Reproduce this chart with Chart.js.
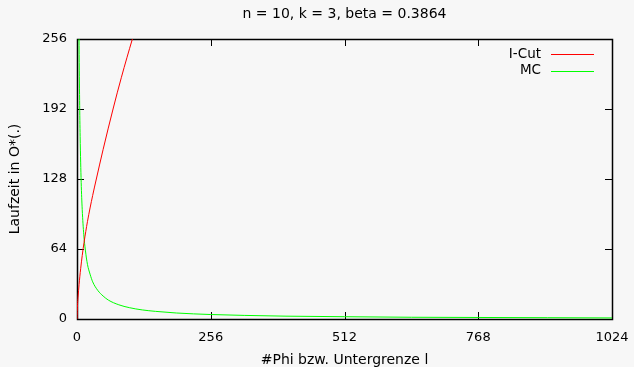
<!DOCTYPE html>
<html>
<head>
<meta charset="utf-8">
<script src="https://cdn.jsdelivr.net/npm/chart.js@4"></script>
<style>
  html, body { margin: 0; padding: 0; background: #f7f7f7; }
  #wrap { width: 634px; height: 367px; }
</style>
</head>
<body>
<div id="wrap"><canvas id="chart"></canvas></div>
<script>
// Values
const xTicks = [0, 256, 512, 768, 1024];
const yTicks = [0, 64, 128, 192, 256];

const icutX = [0, 1, 2, 4, 7, 10, 13.5, 20, 30, 37, 50, 69, 85, 106, 120];
const icutY = [0, 13, 20, 31.6, 46, 58, 70, 89, 113, 128, 155, 192, 221, 256, 278];

const mcX = [3, 4, 5, 6, 8, 10, 13, 16, 20, 25, 30, 40, 50, 60, 80, 100, 125, 150, 190, 256, 320, 400, 512, 640, 768, 900, 1024];
const mcY = [340, 250, 200, 167, 125, 100, 77, 63, 50, 41, 34, 26, 21, 17.3, 13, 10.4, 8.3, 7, 5.5, 4.1, 3.3, 2.6, 2.1, 1.6, 1.4, 1.2, 1.0];

const toPoints = (xs, ys) => xs.map((x, i) => ({x: x, y: ys[i]}));

Chart.defaults.font.family = 'DejaVu Sans';
Chart.defaults.font.size = 13;
Chart.defaults.color = '#000';

// gnuplot-like frame, inward ticks and legend
const gnuplotLook = {
  id: 'gnuplotLook',
  beforeDraw(chart) {
    const ctx = chart.ctx;
    ctx.save();
    ctx.fillStyle = '#f7f7f7';
    ctx.fillRect(0, 0, chart.width, chart.height);
    ctx.restore();
  },
  beforeDatasetsDraw(chart) {
    const {ctx, chartArea: a, scales} = chart;
    const len = 7;
    ctx.save();
    ctx.strokeStyle = '#000';
    ctx.lineWidth = 1;
    ctx.beginPath();
    for (const v of xTicks) {
      const px = Math.round(scales.x.getPixelForValue(v)) + 0.5;
      ctx.moveTo(px, a.bottom); ctx.lineTo(px, a.bottom - len);
      ctx.moveTo(px, a.top); ctx.lineTo(px, a.top + len);
    }
    for (const v of yTicks) {
      const py = Math.round(scales.y.getPixelForValue(v)) + 0.5;
      ctx.moveTo(a.left, py); ctx.lineTo(a.left + len, py);
      ctx.moveTo(a.right, py); ctx.lineTo(a.right - len, py);
    }
    ctx.stroke();
    ctx.lineWidth = 1.5;
    ctx.strokeRect(a.left + 0.5, a.top + 0.5, a.right - a.left, a.bottom - a.top);
    ctx.restore();
  },
  afterDraw(chart) {
    const {ctx, chartArea: a} = chart;
    ctx.save();
    ctx.font = '13.5px "DejaVu Sans"';
    ctx.textAlign = 'right';
    ctx.textBaseline = 'middle';
    chart.data.datasets.forEach((ds, i) => {
      const y = a.top + 15 + i * 16.7;
      ctx.fillStyle = '#000';
      ctx.fillText(ds.label, a.right - 71, y);
      ctx.strokeStyle = ds.borderColor;
      ctx.lineWidth = 1;
      ctx.beginPath();
      ctx.moveTo(a.right - 61, Math.round(y) + 0.5);
      ctx.lineTo(a.right - 18, Math.round(y) + 0.5);
      ctx.stroke();
    });
    ctx.restore();
  }
};

const ctx = document.getElementById('chart').getContext('2d');
const chart = new Chart(ctx, {
  type: 'line',
  data: {
    datasets: [
      {
        label: 'I-Cut',
        data: toPoints(icutX, icutY),
        borderColor: '#ff0000',
        borderWidth: 1,
        pointRadius: 0,
        cubicInterpolationMode: 'monotone',
      },
      {
        label: 'MC',
        data: toPoints(mcX, mcY),
        borderColor: '#00ff00',
        borderWidth: 1,
        pointRadius: 0,
        cubicInterpolationMode: 'monotone',
      },
    ],
  },
  options: {
    responsive: true,
    maintainAspectRatio: false,
    animation: false,
    layout: { padding: { left: 0, right: 22, top: 0, bottom: 0 } },
    plugins: {
      legend: { display: false },
      tooltip: { enabled: false },
      title: {
        display: true,
        text: 'n = 10, k = 3, beta = 0.3864',
        fullSize: false,
        color: '#000',
        font: { size: 14, weight: 'normal' },
        padding: { top: 5.5, bottom: 16.7 },
      },
    },
    scales: {
      x: {
        type: 'linear',
        min: 0,
        max: 1024,
        afterBuildTicks: s => { s.ticks = xTicks.map(v => ({value: v})); },
        afterFit: s => { s.height = 48; s.paddingRight = 22; },
        grid: { display: false, drawTicks: false },
        border: { display: false },
        ticks: { padding: 11, maxRotation: 0, autoSkip: false, callback: v => String(v) },
        title: {
          display: true,
          text: '#Phi bzw. Untergrenze l',
          font: { size: 14 },
          padding: { top: 0, bottom: -2 },
        },
      },
      y: {
        type: 'linear',
        min: 0,
        max: 256,
        afterBuildTicks: s => { s.ticks = yTicks.map(v => ({value: v})); },
        afterFit: s => { s.width = 77; },
        grid: { display: false, drawTicks: false },
        border: { display: false },
        ticks: { padding: 10, callback: v => String(v) },
        title: {
          display: true,
          text: 'Laufzeit in O*(.)',
          font: { size: 14 },
          padding: { top: 7, bottom: 0 },
        },
      },
    },
  },
  plugins: [gnuplotLook],
});
</script>
</body>
</html>
